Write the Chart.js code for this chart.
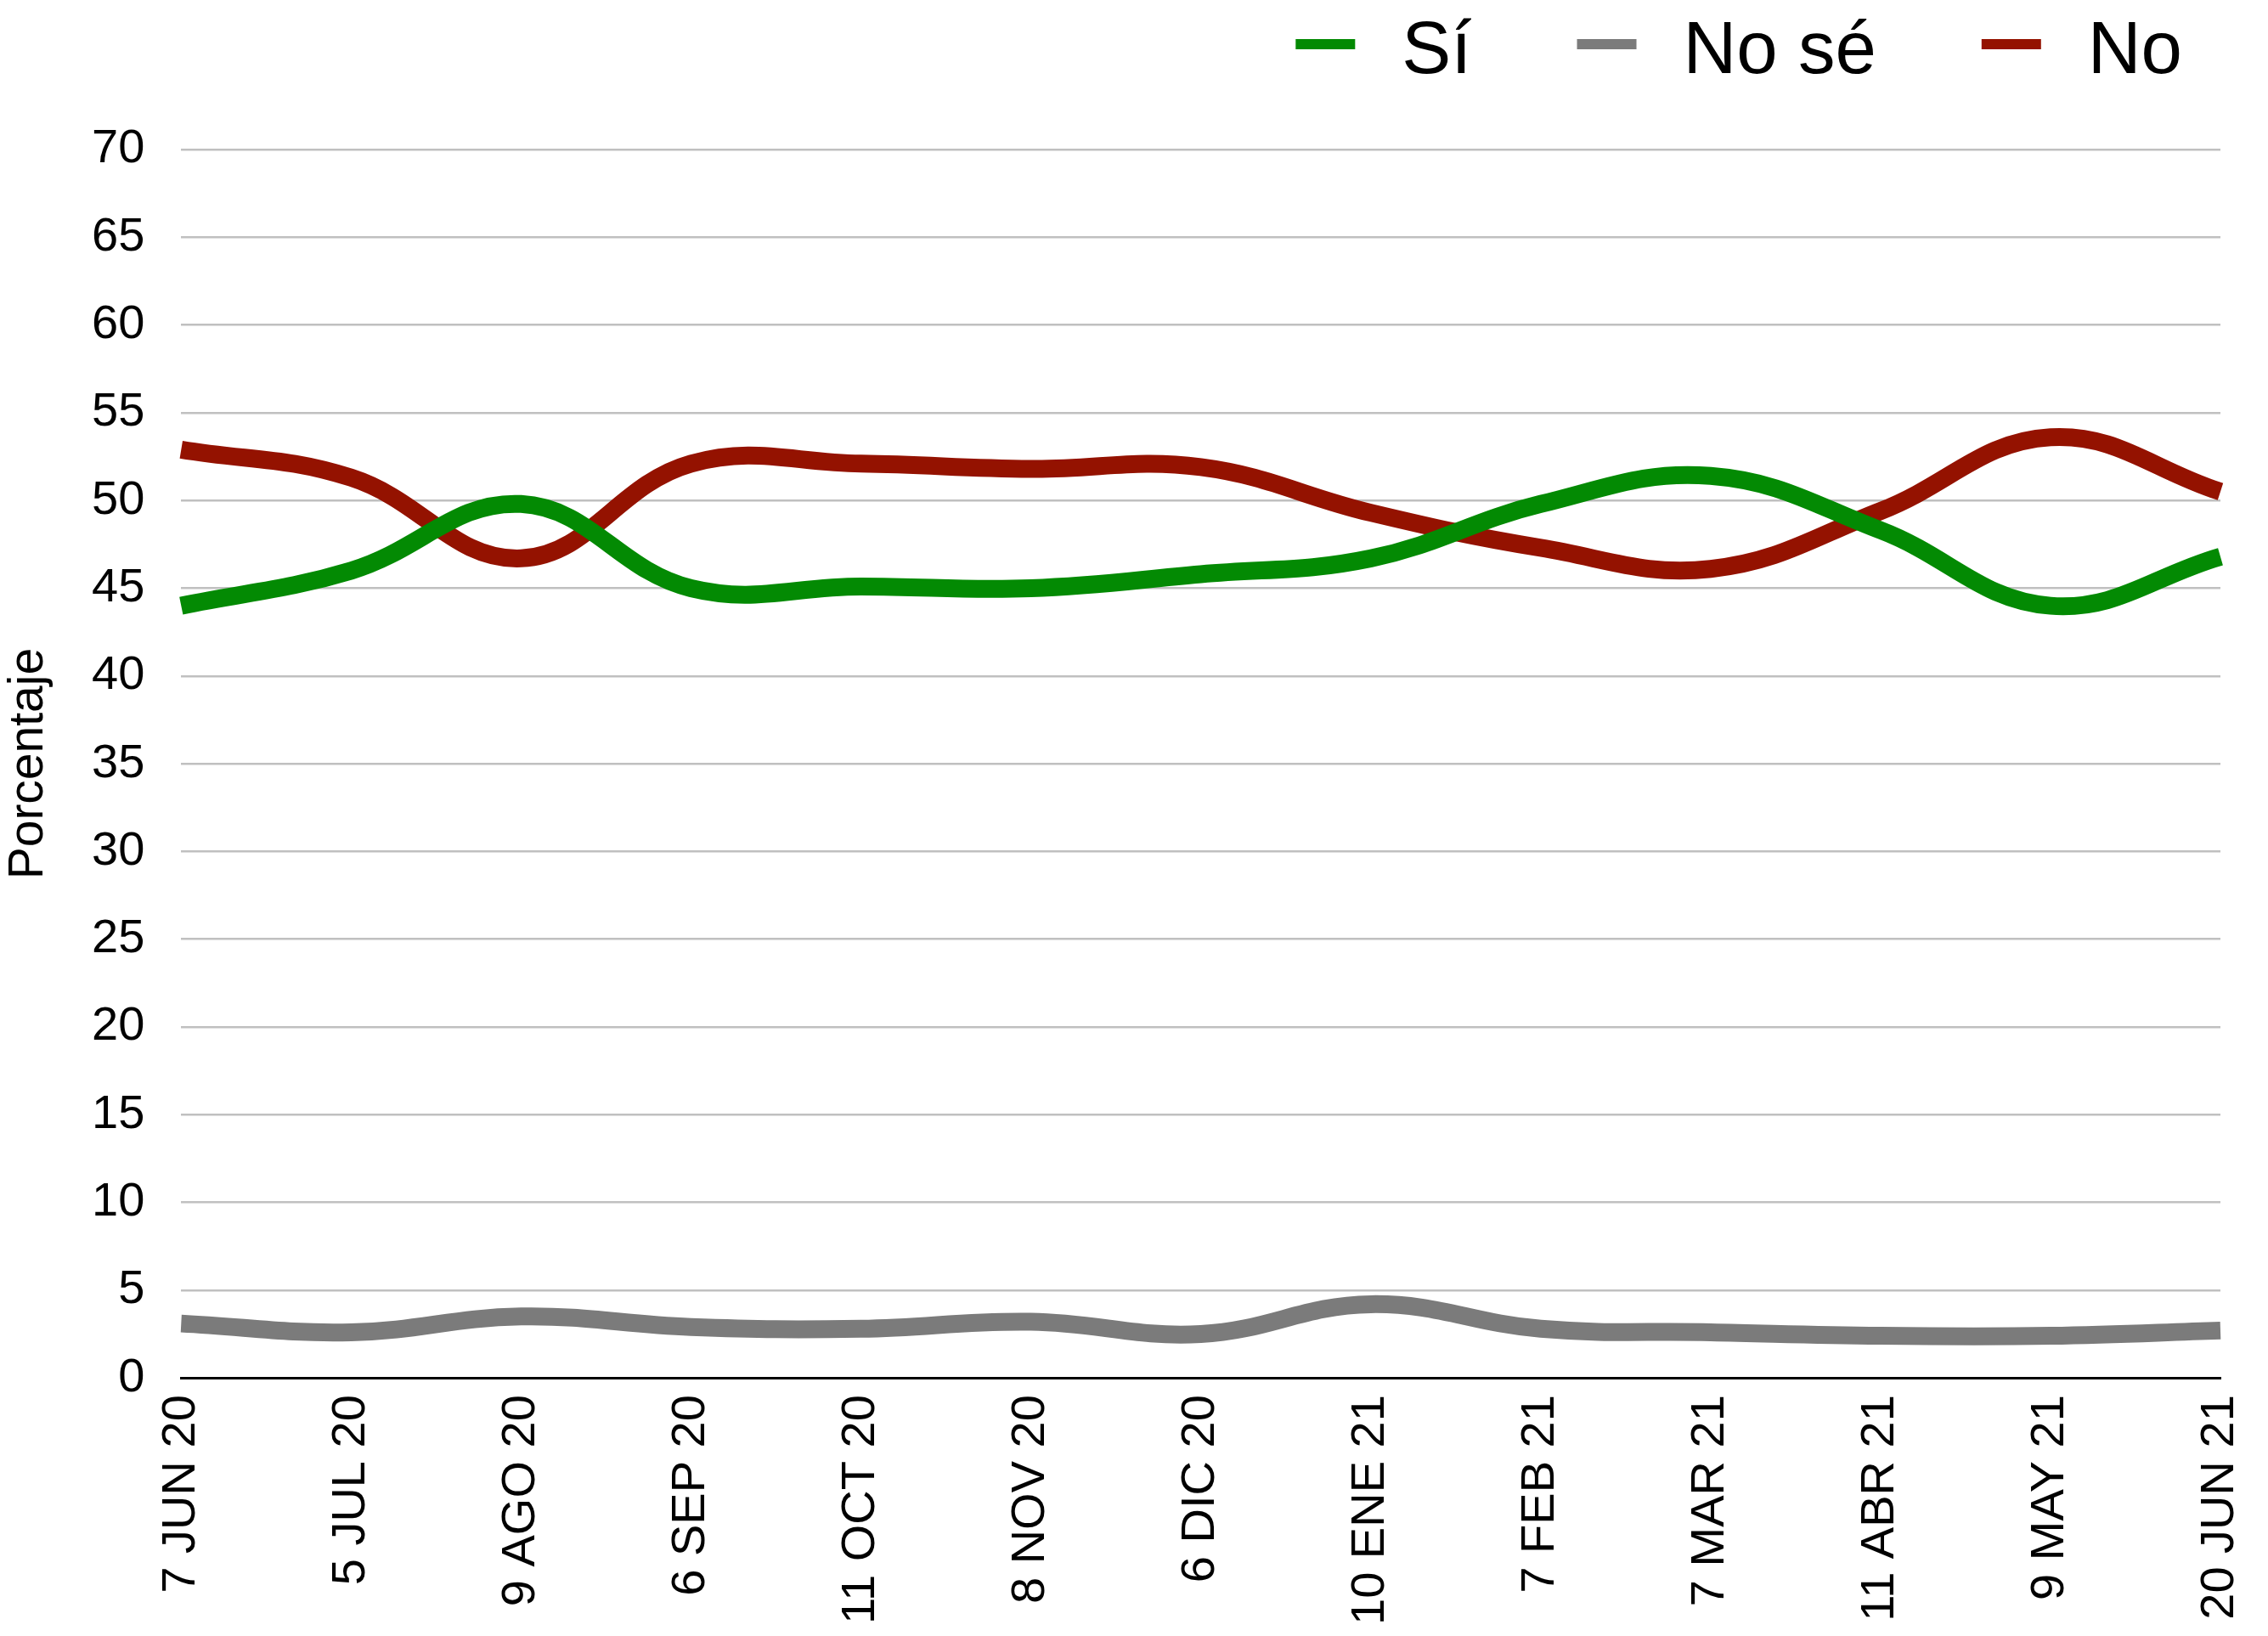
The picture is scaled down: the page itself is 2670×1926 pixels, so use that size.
<!DOCTYPE html>
<html>
<head>
<meta charset="utf-8">
<script src="https://cdn.jsdelivr.net/npm/chart.js@4/dist/chart.umd.min.js"></script>
<style>
  html, body { margin: 0; padding: 0; background: #ffffff; }
  #wrap { width: 2670px; height: 1926px; }
</style>
</head>
<body>
<div id="wrap"><canvas id="c" width="2670" height="1926"></canvas></div>
<script>
const categories = ["7 JUN 20", "5 JUL 20", "9 AGO 20", "6 SEP 20", "11 OCT 20", "8 NOV 20", "6 DIC 20", "10 ENE 21", "7 FEB 21", "7 MAR 21", "11 ABR 21", "9 MAY 21", "20 JUN 21"];
const si    = [44.0, 46.0, 49.8, 45.0, 45.1, 45.0, 45.8, 46.7, 49.8, 51.4, 48.3, 44.0, 46.8];
const nose  = [3.1, 2.6, 3.5, 2.9, 2.8, 3.2, 2.5, 4.2, 2.8, 2.6, 2.4, 2.4, 2.7];
const no    = [52.9, 51.3, 46.7, 52.1, 52.1, 51.8, 51.9, 49.3, 47.3, 46.1, 49.4, 53.6, 50.5];
const seriesNames = ["Sí", "No sé", "No"];
const seriesColors = ["#038a03", "#7b7b7b", "#941200"];
const yTicksMin = 0, yTicksMax = 70, yTicksStep = 5;
const yTitle = "Porcentaje";

const FONT = "'Liberation Sans', Arial, sans-serif";

const legendPlugin = {
  id: 'customLegend',
  afterDraw(chart) {
    const ctx = chart.ctx;
    ctx.save();
    ctx.font = "87px " + FONT;
    ctx.textBaseline = 'alphabetic';
    ctx.textAlign = 'left';
    const right = 2569, markerW = 70, markerH = 12, textGap = 55, itemGap = 124;
    const markerTop = 46, baseline = 86;
    let x = right;
    const ds = chart.data.datasets;
    for (let i = ds.length - 1; i >= 0; i--) {
      const label = ds[i].label;
      const w = ctx.measureText(label).width;
      const textX = x - w;
      ctx.fillStyle = '#000000';
      ctx.fillText(label, textX, baseline);
      const mx = textX - textGap - markerW;
      ctx.fillStyle = ds[i].borderColor;
      ctx.fillRect(mx, markerTop, markerW, markerH);
      x = mx - itemGap;
    }
    ctx.restore();
  }
};

const values = [si, nose, no];
const datasets = seriesNames.map((name, i) => ({
  label: name,
  data: values[i],
  borderColor: seriesColors[i],
  backgroundColor: seriesColors[i],
  borderWidth: 21,
  pointRadius: 0,
  pointHoverRadius: 0,
  tension: 0.4,
  fill: false,
  borderJoinStyle: 'round',
  borderCapStyle: 'butt'
}));

new Chart(document.getElementById('c'), {
  type: 'line',
  data: { labels: categories, datasets: datasets },
  plugins: [legendPlugin],
  options: {
    responsive: false,
    devicePixelRatio: 1,
    animation: false,
    layout: { padding: { top: 176, right: 56, bottom: -7, left: 0 } },
    plugins: {
      legend: { display: false },
      tooltip: { enabled: false },
      title: { display: false }
    },
    scales: {
      x: {
        afterFit: (scale) => { scale.paddingRight = 0; },
        grid: { display: false, drawTicks: false },
        border: { display: true, color: '#000000', width: 3 },
        ticks: {
          color: '#000000',
          font: { family: FONT, size: 56 },
          minRotation: 90,
          maxRotation: 90,
          autoSkip: false,
          padding: 20
        }
      },
      y: {
        min: yTicksMin,
        max: yTicksMax,
        border: { display: false },
        grid: {
          drawTicks: false,
          color: (c) => c.tick && c.tick.value === 0 ? '#000000' : '#c0c0c0',
          lineWidth: 2.5
        },
        ticks: {
          stepSize: yTicksStep,
          color: '#000000',
          font: { family: FONT, size: 56 },
          padding: 43
        },
        title: {
          display: true,
          text: yTitle,
          color: '#000000',
          font: { family: FONT, size: 57, lineHeight: 1.0 },
          padding: { top: 6, bottom: 2 }
        }
      }
    }
  }
});
</script>
</body>
</html>
